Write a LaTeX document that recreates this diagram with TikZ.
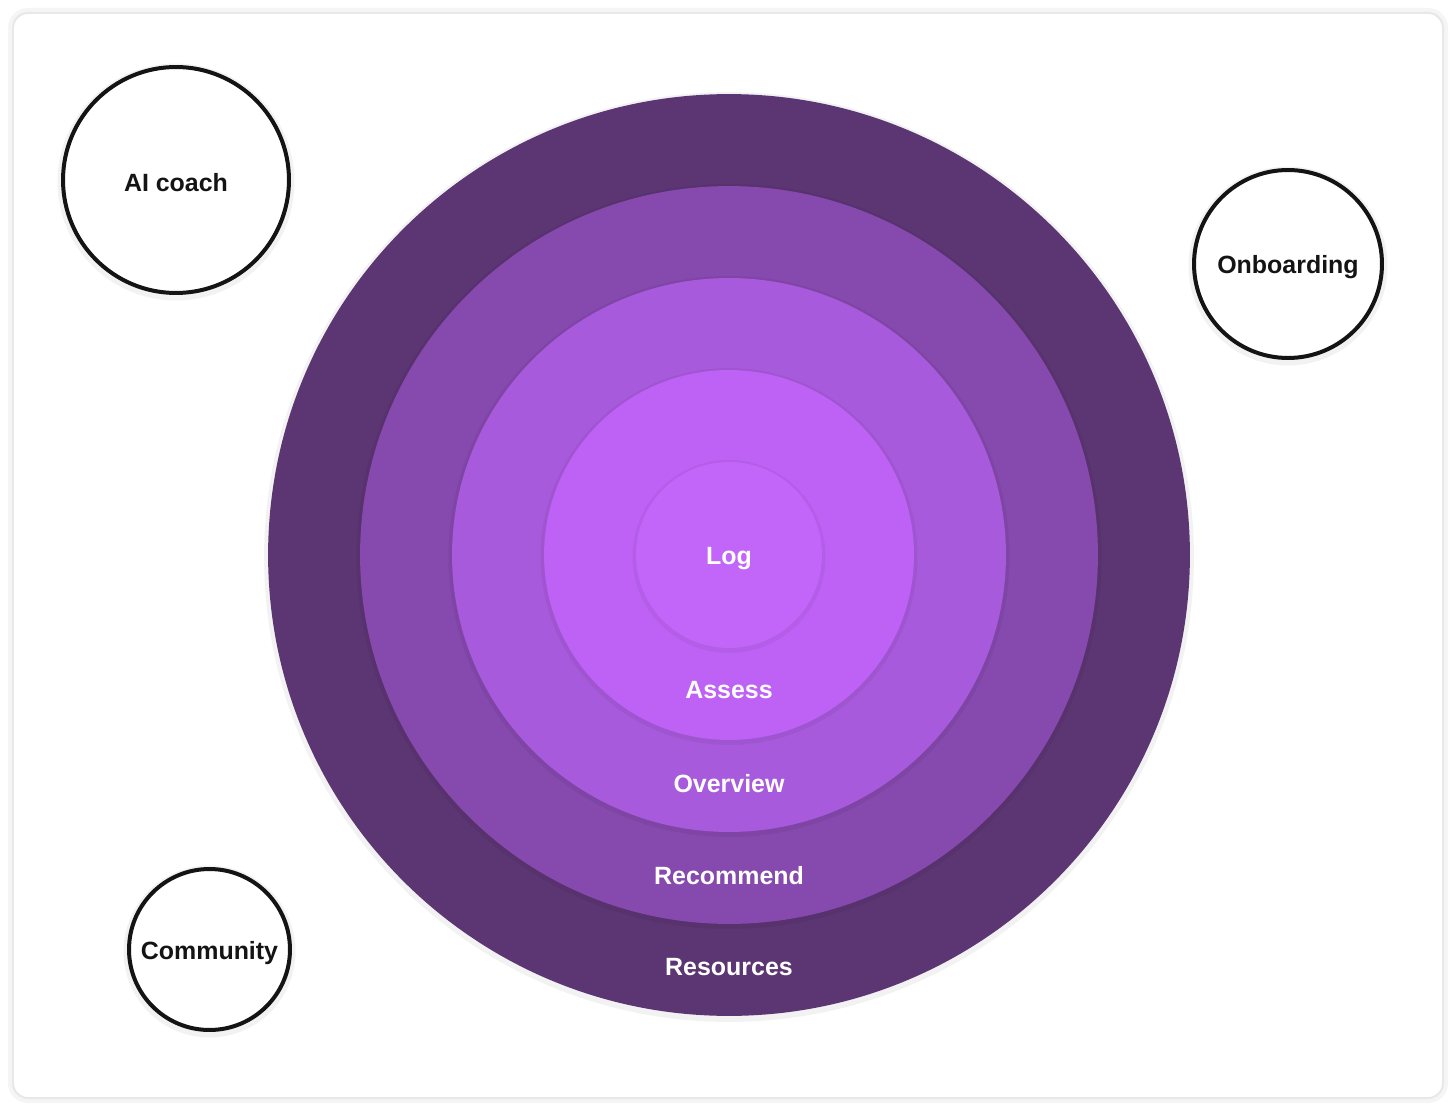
\documentclass[tikz,border=0pt]{standalone}
\usepackage{fontspec}
\setmainfont{Liberation Sans}
\begin{document}
\begin{tikzpicture}[x=0.02cm,y=-0.02cm,
  ring/.style={circle, inner sep=0pt, outer sep=0pt},
  ringlabel/.style={text=white, font=\bfseries\fontsize{14.2}{16}\selectfont, inner sep=0pt},
  outline/.style={circle, draw=black!92, line width=0.08cm, fill=white, inner sep=0pt,
    font=\bfseries\fontsize{14.2}{16}\selectfont, text=black!92},
  halo/.style={circle, fill=black, opacity=0.05, inner sep=0pt}
]
\definecolor{ringA}{RGB}{92,53,115}
\definecolor{ringB}{RGB}{134,73,174}
\definecolor{ringC}{RGB}{168,90,220}
\definecolor{ringD}{RGB}{189,98,245}
\definecolor{ringE}{RGB}{194,102,250}
\useasboundingbox (0,0) rectangle (1456,1111);
\fill[white] (0,0) rectangle (1456,1111);
% card with soft shadow
\draw[black!4, line width=0.12cm, rounded corners=0.34cm] (11,11) rectangle (1445,1100);
\draw[black!9, line width=0.04cm, fill=white, rounded corners=0.3cm] (13,13) rectangle (1443,1098);
% concentric rings
\node[halo, minimum size=18.6cm] (hA) at (729,557) {};
\node[ring, fill=ringA, minimum size=18.44cm] (rA) at (729,555) {};
\node[halo, minimum size=14.9cm] (hB) at (729,556.5) {};
\node[ring, fill=ringB, minimum size=14.76cm] (rB) at (729,555) {};
\node[halo, minimum size=11.22cm] (hC) at (729,556.5) {};
\node[ring, fill=ringC, minimum size=11.08cm] (rC) at (729,555) {};
\node[halo, minimum size=7.54cm] (hD) at (729,556.5) {};
\node[ring, fill=ringD, minimum size=7.40cm] (rD) at (729,555) {};
\node[halo, minimum size=3.86cm] (hE) at (729,556.5) {};
\node[ring, fill=ringE, minimum size=3.72cm] (rE) at (729,555) {};
% ring labels
\node[ringlabel] (log) at (729,559) {Log};
\node[ringlabel] (assess) at (729,690) {Assess};
\node[ringlabel] (overview) at (729,784) {Overview};
\node[ringlabel] (recommend) at (729,876) {Recommend};
\node[ringlabel] (resources) at (729,967) {Resources};
% outlined circles
\node[halo, minimum size=4.74cm] (haic) at (176,182) {};
\node[outline, minimum size=4.52cm] (aic) at (176,180) {};
\node[font=\bfseries\fontsize{14.2}{16}\selectfont, text=black!92, inner sep=0pt] (aict) at (176,183) {AI coach};
\node[halo, minimum size=3.98cm] (hon) at (1288,266) {};
\node[outline, minimum size=3.76cm] (onb) at (1288,264) {};
\node[font=\bfseries\fontsize{14.2}{16}\selectfont, text=black!92, inner sep=0pt] (onbt) at (1288,267) {Onboarding};
\node[halo, minimum size=3.44cm] (hcom) at (209.5,951.5) {};
\node[outline, minimum size=3.22cm] (com) at (209.5,949.5) {};
\node[font=\bfseries\fontsize{14.2}{16}\selectfont, text=black!92, inner sep=0pt] (comt) at (209.5,953) {Community};
\end{tikzpicture}
\end{document}
